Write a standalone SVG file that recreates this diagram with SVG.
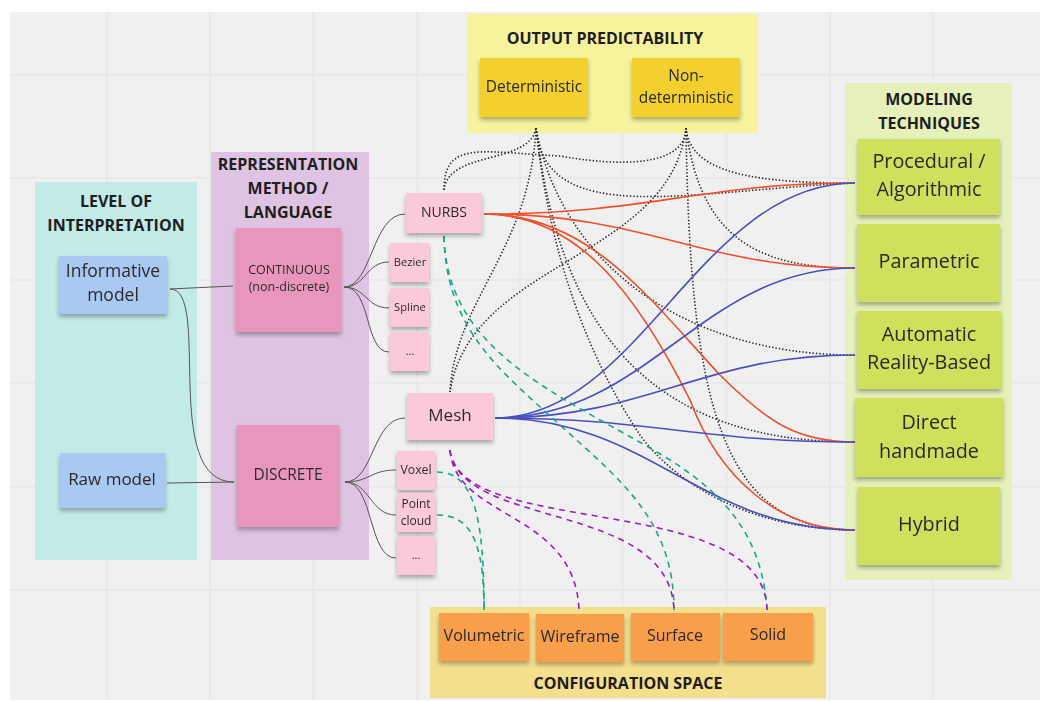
<svg xmlns="http://www.w3.org/2000/svg" width="1048" height="701" viewBox="0 0 1048 701">
<defs>
<filter id="sh" x="-10%" y="-10%" width="120%" height="130%">
<feDropShadow dx="0" dy="3" stdDeviation="2" flood-color="#000" flood-opacity="0.3"/>
</filter>
<style>
.t{font-family:"Open Sans","Liberation Sans",sans-serif;fill:#2b2b2b;text-anchor:middle}
.h{font-family:"Open Sans","Liberation Sans",sans-serif;font-weight:bold;font-size:16px;fill:#1e1e1e;text-anchor:middle}
.grid{stroke:#e3e3e3;stroke-width:1}
.gray{fill:none;stroke:#555;stroke-width:1}
.dot{fill:none;stroke:#2a2a2a;stroke-width:1.6;stroke-dasharray:1.4 2}
.red{fill:none;stroke:#f0502d;stroke-width:1.6}
.blue{fill:none;stroke:#4a4fbf;stroke-width:1.6}
.teal{fill:none;stroke:#19a88a;stroke-width:1.6;stroke-dasharray:6 5}
.purp{fill:none;stroke:#9a1fbf;stroke-width:1.6;stroke-dasharray:6 5}
.note{filter:url(#sh)}
</style>
</defs>
<rect x="0" y="0" width="1048" height="701" fill="#ffffff"/>
<rect x="10" y="12" width="1030" height="688" fill="#f0f0f0"/>
<g id="grid">
<line class="grid" x1="107" y1="12" x2="107" y2="700"/>
<line class="grid" x1="210" y1="12" x2="210" y2="700"/>
<line class="grid" x1="313" y1="12" x2="313" y2="700"/>
<line class="grid" x1="417" y1="12" x2="417" y2="700"/>
<line class="grid" x1="520" y1="12" x2="520" y2="700"/>
<line class="grid" x1="623" y1="12" x2="623" y2="700"/>
<line class="grid" x1="727" y1="12" x2="727" y2="700"/>
<line class="grid" x1="830" y1="12" x2="830" y2="700"/>
<line class="grid" x1="933" y1="12" x2="933" y2="700"/>
<line class="grid" x1="10" y1="75" x2="1040" y2="75"/>
<line class="grid" x1="10" y1="178" x2="1040" y2="178"/>
<line class="grid" x1="10" y1="280" x2="1040" y2="280"/>
<line class="grid" x1="10" y1="383" x2="1040" y2="383"/>
<line class="grid" x1="10" y1="487" x2="1040" y2="487"/>
<line class="grid" x1="10" y1="590" x2="1040" y2="590"/>
</g>

<g id="panel-output">
<rect x="467" y="14" width="291" height="119" fill="#f7f29c"/>
<text class="h" x="605" y="44">OUTPUT PREDICTABILITY</text>
</g>
<g id="panel-level">
<rect x="35" y="182" width="162" height="378" fill="#c2eae6"/>
<text class="h" x="116" y="207">LEVEL OF</text>
<text class="h" x="116" y="231">INTERPRETATION</text>
</g>
<g id="panel-representation">
<rect x="211" y="152" width="158" height="408" fill="#dfc3e2"/>
<text class="h" x="288" y="170">REPRESENTATION</text>
<text class="h" x="288" y="194">METHOD /</text>
<text class="h" x="288" y="218">LANGUAGE</text>
</g>
<g id="panel-modeling">
<rect x="845" y="83" width="167" height="497" fill="#e5f0ba"/>
<text class="h" x="929" y="105">MODELING</text>
<text class="h" x="929" y="129">TECHNIQUES</text>
</g>
<g id="panel-config">
<rect x="430" y="607" width="396" height="91" fill="#f4df8d"/>
<text class="h" x="628" y="689">CONFIGURATION SPACE</text>
</g>

<g id="connectors">
<path class="gray" d="M170,289 L233,286"/>
<path class="gray" d="M170,289 C212,289 160,482 234,482"/>
<path class="gray" d="M167,483 L234,482"/>
<path class="gray" d="M344,287 C372,287 372,214 405,214"/>
<path class="gray" d="M344,287 C366,287 366,262 389,262"/>
<path class="gray" d="M344,287 C366,287 366,308 389,308"/>
<path class="gray" d="M344,287 C372,287 364,352 389,352"/>
<path class="gray" d="M345,482 C374,482 372,418 405,418"/>
<path class="gray" d="M345,482 C370,482 370,470 396,470"/>
<path class="gray" d="M345,482 C370,482 370,515 396,515"/>
<path class="gray" d="M345,482 C374,482 368,558 396,558"/>

<path class="dot" d="M444,190 C448,150 530,165 536,128"/>
<path class="dot" d="M444,190 C444,140 480,152 560,156 C640,170 686,160 686,128"/>
<path class="dot" d="M536,128 C530,250 455,300 450,392"/>
<path class="dot" d="M686,128 C670,260 470,260 450,392"/>
<path class="dot" d="M536,128 C545,230 690,190 855,183"/>
<path class="dot" d="M536,128 C560,260 680,355 855,355"/>
<path class="dot" d="M536,128 C560,330 650,442 855,442"/>
<path class="dot" d="M536,128 C550,260 590,360 640,435 C680,490 760,530 855,530"/>
<path class="dot" d="M686,128 C690,175 760,183 855,183"/>
<path class="dot" d="M686,128 C700,240 760,268 855,268"/>
<path class="dot" d="M686,128 C690,400 720,530 855,530"/>

<path class="red" d="M484,214 C650,214 700,183 855,183"/>
<path class="red" d="M484,214 C650,214 700,268 855,268"/>
<path class="red" d="M484,214 C590,214 650,300 720,375 C770,425 800,442 855,442"/>
<path class="red" d="M484,214 C580,214 640,300 690,400 C720,480 780,530 855,530"/>

<path class="blue" d="M495,418 C640,418 700,183 855,183"/>
<path class="blue" d="M495,418 C650,418 700,268 855,268"/>
<path class="blue" d="M495,418 C650,418 700,355 855,355"/>
<path class="blue" d="M495,418 C650,418 700,442 855,442"/>
<path class="blue" d="M495,418 C650,418 700,530 855,530"/>

<path class="teal" d="M444,236 C446,330 500,370 560,425 C620,480 674,520 674,610"/>
<path class="teal" d="M444,236 C446,330 520,375 600,420 C680,465 760,500 767,610"/>
<path class="teal" d="M437,472 C475,472 484,520 484,610"/>
<path class="teal" d="M437,515 C470,515 484,540 484,610"/>

<path class="purp" d="M450,450 C455,520 575,510 579,610"/>
<path class="purp" d="M450,450 C460,530 670,500 674,610"/>
<path class="purp" d="M450,450 C460,540 765,490 767,610"/>
</g>

<g id="n-deterministic" class="note">
<rect x="480" y="58" width="108" height="59" fill="#f3d02f"/>
<text class="t" x="534" y="92" font-size="15.5">Deterministic</text>
</g>
<g id="n-nondeterministic" class="note">
<rect x="632" y="58" width="108" height="59" fill="#f3d02f"/>
<text class="t" x="686" y="81" font-size="15.5">Non-</text>
<text class="t" x="686" y="103" font-size="15.5">deterministic</text>
</g>
<g id="n-informative" class="note">
<rect x="59" y="256" width="108" height="58" fill="#a9c9f2"/>
<text class="t" x="113" y="277" font-size="17.5">Informative</text>
<text class="t" x="113" y="301" font-size="17.5">model</text>
</g>
<g id="n-raw" class="note">
<rect x="60" y="453" width="105" height="55" fill="#a9c9f2"/>
<text class="t" x="112" y="485" font-size="17">Raw model</text>
</g>
<g id="n-continuous" class="note">
<rect x="236" y="228" width="105" height="104" fill="#e996bf"/>
<text class="t" x="289" y="274" font-size="12.5">CONTINUOUS</text>
<text class="t" x="289" y="291" font-size="12.5">(non-discrete)</text>
</g>
<g id="n-discrete" class="note">
<rect x="237" y="425" width="102" height="102" fill="#e996bf"/>
<text class="t" x="288" y="480" font-size="15.5">DISCRETE</text>
</g>
<g id="n-nurbs" class="note">
<rect x="406" y="193" width="76" height="40" fill="#fcc8dc"/>
<text class="t" x="444" y="217" font-size="14">NURBS</text>
</g>
<g id="n-bezier" class="note">
<rect x="390" y="243" width="39" height="39" fill="#fcc8dc"/>
<text class="t" x="410" y="266" font-size="11.2">Bezier</text>
</g>
<g id="n-spline" class="note">
<rect x="390" y="288" width="39" height="39" fill="#fcc8dc"/>
<text class="t" x="410" y="311" font-size="11.2">Spline</text>
</g>
<g id="n-etc1" class="note">
<rect x="390" y="332" width="39" height="39" fill="#fcc8dc"/>
<text class="t" x="410" y="355" font-size="11">...</text>
</g>
<g id="n-mesh" class="note">
<rect x="407" y="393" width="86" height="47" fill="#fcc8dc"/>
<text class="t" x="450" y="421" font-size="17">Mesh</text>
</g>
<g id="n-voxel" class="note">
<rect x="397" y="451" width="38" height="39" fill="#fcc8dc"/>
<text class="t" x="416" y="474" font-size="12.3">Voxel</text>
</g>
<g id="n-pointcloud" class="note">
<rect x="397" y="493" width="38" height="39" fill="#fcc8dc"/>
<text class="t" x="416" y="508" font-size="12">Point</text>
<text class="t" x="416" y="525" font-size="12">cloud</text>
</g>
<g id="n-etc2" class="note">
<rect x="397" y="536" width="38" height="39" fill="#fcc8dc"/>
<text class="t" x="416" y="559" font-size="11">...</text>
</g>
<g id="n-procedural" class="note">
<rect x="858" y="139" width="142" height="76" fill="#cfe05d"/>
<text class="t" x="929" y="168" font-size="19.8">Procedural /</text>
<text class="t" x="929" y="196" font-size="19.8">Algorithmic</text>
</g>
<g id="n-parametric" class="note">
<rect x="857" y="224" width="143" height="78" fill="#cfe05d"/>
<text class="t" x="929" y="268" font-size="19.8">Parametric</text>
</g>
<g id="n-automatic" class="note">
<rect x="857" y="311" width="144" height="78" fill="#cfe05d"/>
<text class="t" x="929" y="341" font-size="19.8">Automatic</text>
<text class="t" x="929" y="369" font-size="19.8">Reality-Based</text>
</g>
<g id="n-direct" class="note">
<rect x="855" y="398" width="148" height="79" fill="#cfe05d"/>
<text class="t" x="929" y="429" font-size="19.8">Direct</text>
<text class="t" x="929" y="458" font-size="19.8">handmade</text>
</g>
<g id="n-hybrid" class="note">
<rect x="858" y="487" width="142" height="78" fill="#cfe05d"/>
<text class="t" x="929" y="531" font-size="19.8">Hybrid</text>
</g>
<g id="n-volumetric" class="note">
<rect x="439" y="613" width="90" height="48" fill="#f99f4c"/>
<text class="t" x="484" y="641" font-size="16">Volumetric</text>
</g>
<g id="n-wireframe" class="note">
<rect x="536" y="614" width="88" height="48" fill="#f99f4c"/>
<text class="t" x="580" y="642" font-size="16">Wireframe</text>
</g>
<g id="n-surface" class="note">
<rect x="631" y="613" width="89" height="48" fill="#f99f4c"/>
<text class="t" x="675" y="641" font-size="16">Surface</text>
</g>
<g id="n-solid" class="note">
<rect x="723" y="613" width="90" height="48" fill="#f99f4c"/>
<text class="t" x="768" y="640" font-size="16">Solid</text>
</g>
</svg>
